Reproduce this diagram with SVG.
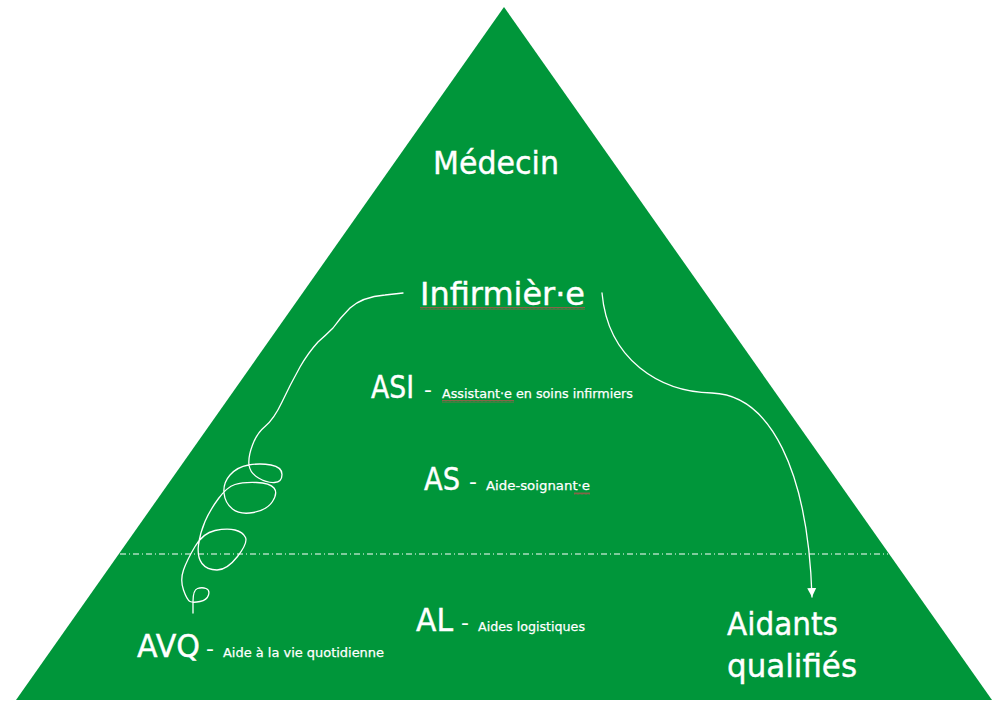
<svg xmlns="http://www.w3.org/2000/svg" width="1006" height="707" viewBox="0 0 1006 707">
<style>
.big{font-family:"DejaVu Sans","Liberation Sans",sans-serif;font-size:32px;fill:#ffffff;stroke:#ffffff;stroke-width:0.4;}
.dash{font-family:"DejaVu Sans","Liberation Sans",sans-serif;font-size:22px;fill:#ffffff;}
.small{font-family:"DejaVu Sans","Liberation Sans",sans-serif;font-size:13px;fill:#ffffff;stroke:#ffffff;stroke-width:0.25;}
.line{fill:none;stroke:#ffffff;stroke-width:1.3;stroke-linecap:round;stroke-linejoin:round;}
</style>
<defs>
<pattern id="wavy" width="4" height="3" patternUnits="userSpaceOnUse">
<polyline points="0,2.5 1,0.5 2,2.5 3,0.5 4,2.5" fill="none" stroke="#c0504d" stroke-width="0.7"/>
</pattern>
<marker id="arrow" markerWidth="10" markerHeight="10" refX="9" refY="5" orient="auto" markerUnits="userSpaceOnUse">
<path d="M0,0.5 L9,5 L0,9.5 Z" fill="#ffffff"/>
</marker>
</defs>
<rect width="1006" height="707" fill="#ffffff"/>
<g id="pyramid">
<polygon points="504,7 992,700 16,700" fill="#00963a"/>
</g>
<g id="separator">
<line x1="120" y1="554" x2="888" y2="554" stroke="#ffffff" stroke-width="1" stroke-dasharray="6 3 1 3"/>
</g>
<g id="medecin">
<text class="big" x="433" y="174" textLength="126" lengthAdjust="spacingAndGlyphs">Médecin</text>
</g>
<g id="infirmiere">
<text class="big" x="420" y="305" textLength="165" lengthAdjust="spacingAndGlyphs">Infirmièr·e</text>
<rect x="420" y="307" width="165" height="3" fill="url(#wavy)"/>
</g>
<g id="asi">
<text class="big" x="371" y="398" textLength="43" lengthAdjust="spacingAndGlyphs">ASI</text>
<text class="dash" x="424" y="397">-</text>
<text class="small" x="442" y="398" textLength="191" lengthAdjust="spacingAndGlyphs">Assistant·e en soins infirmiers</text>
<rect x="442" y="400" width="72" height="3" fill="url(#wavy)"/>
</g>
<g id="as">
<text class="big" x="424" y="490" textLength="36" lengthAdjust="spacingAndGlyphs">AS</text>
<text class="dash" x="469" y="489">-</text>
<text class="small" x="486" y="490" textLength="104" lengthAdjust="spacingAndGlyphs">Aide-soignant·e</text>
<rect x="574" y="492" width="16" height="3" fill="url(#wavy)"/>
</g>
<g id="al">
<text class="big" x="416" y="631" textLength="37" lengthAdjust="spacingAndGlyphs">AL</text>
<text class="dash" x="461" y="630">-</text>
<text class="small" x="478" y="631" textLength="107" lengthAdjust="spacingAndGlyphs">Aides logistiques</text>
</g>
<g id="avq">
<text class="big" x="137" y="657" textLength="63" lengthAdjust="spacingAndGlyphs">AVQ</text>
<text class="dash" x="206" y="656">-</text>
<text class="small" x="223" y="657" textLength="161" lengthAdjust="spacingAndGlyphs">Aide à la vie quotidienne</text>
</g>
<g id="aidants">
<text class="big" x="727" y="635" textLength="111" lengthAdjust="spacingAndGlyphs">Aidants</text>
<text class="big" x="727" y="677" textLength="130" lengthAdjust="spacingAndGlyphs">qualifiés</text>
</g>
<g id="connectors">
<path class="line" d="M403,293 L385,295 Q362,297 350,308 Q340,318 333,328 Q326,335 318,342 Q308,353 300,367 Q290,385 282,402 Q274,419 265,426.5 Q257,433 252.5,445 Q248,457 249,465 Q250,473 258.5,478 Q267,483 274.5,482.5 Q282,482 282,474.5 Q282,467 271,465 Q260,463 248.5,465 Q237,467 230,475 Q223,483 224,493 Q225,503 232.5,509 Q240,515 253.5,512.5 Q267,510 272.5,501.5 Q278,493 274,488 Q270,483 256.5,482.5 Q243,482 235,484.5 Q227,487 218.5,498.5 Q210,510 205,521.5 Q200,533 198.5,545 Q197,557 202,563.5 Q207,570 217,570 Q227,570 237.5,556.5 Q248,543 245.5,537.5 Q243,532 235,530 Q227,528 215,530.5 Q203,533 195,546.5 Q187,560 183.5,570 Q180,580 183.5,590 Q187,600 190,601.5 Q193,603 200,601.5 Q207,600 208.5,595 Q210,590 206,588.5 Q202,587 197.5,588.5 Q193,590 193,601.5 L193,613"/>
<path class="line" d="M602,293 C608,360 660,392 712,393 C770,395 808,470 812,597" marker-end="url(#arrow)"/>
</g>
</svg>
